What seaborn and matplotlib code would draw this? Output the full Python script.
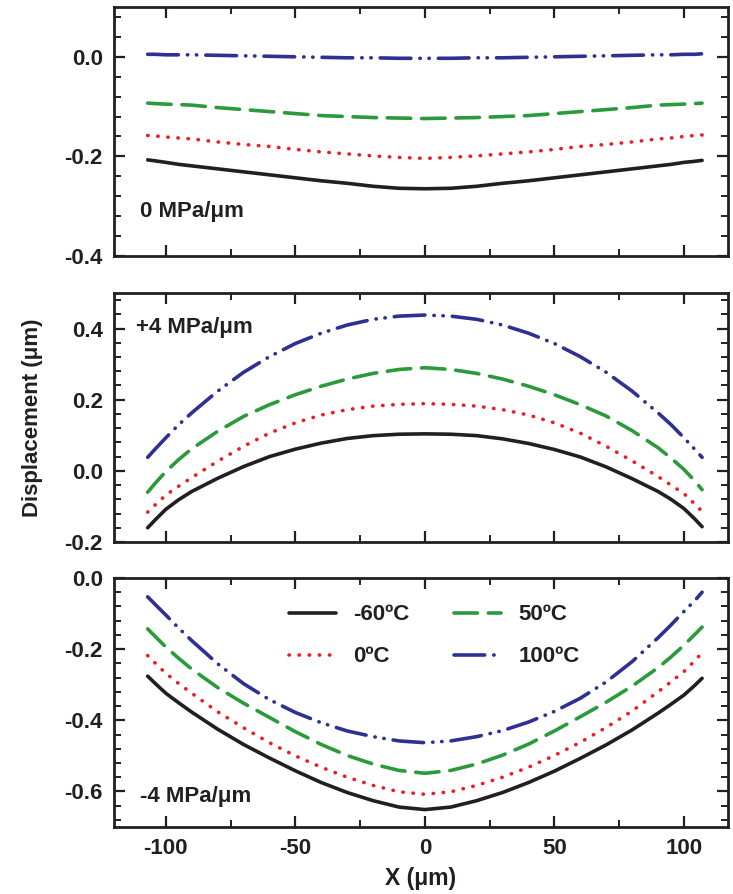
import matplotlib
matplotlib.use("Agg")
import matplotlib.pyplot as plt
import seaborn as sns
import pandas as pd
from matplotlib.ticker import MultipleLocator

# ---------------- data ----------------
x_um = [-107, -104, -100, -95, -90, -80, -70, -60, -50, -40, -30, -20, -10, 0,
        10, 20, 30, 40, 50, 60, 70, 80, 90, 95, 100, 104, 107]
temps = ["-60ºC", "0ºC", "50ºC", "100ºC"]
panel_labels = ["0 MPa/μm", "+4 MPa/μm", "-4 MPa/μm"]

# 0 MPa/um
p0_m60 = [-0.207, -0.209, -0.212, -0.216, -0.219, -0.225, -0.231, -0.237, -0.243, -0.249, -0.254, -0.260, -0.264, -0.265,
          -0.264, -0.260, -0.254, -0.249, -0.243, -0.237, -0.231, -0.225, -0.219, -0.216, -0.212, -0.210, -0.208]
p0_0 = [-0.158, -0.159, -0.161, -0.163, -0.165, -0.171, -0.176, -0.180, -0.186, -0.191, -0.195, -0.199, -0.202, -0.204,
        -0.202, -0.199, -0.195, -0.191, -0.186, -0.180, -0.176, -0.171, -0.165, -0.163, -0.160, -0.158, -0.157]
p0_50 = [-0.093, -0.094, -0.095, -0.096, -0.097, -0.102, -0.106, -0.110, -0.114, -0.118, -0.120, -0.122, -0.123, -0.124,
         -0.123, -0.122, -0.120, -0.118, -0.114, -0.110, -0.106, -0.102, -0.097, -0.096, -0.095, -0.094, -0.093]
p0_100 = [0.005, 0.005, 0.004, 0.004, 0.004, 0.003, 0.002, 0.001, 0.000, -0.001, -0.002, -0.002, -0.003, -0.003,
          -0.003, -0.002, -0.002, -0.001, 0.000, 0.001, 0.002, 0.003, 0.004, 0.004, 0.005, 0.005, 0.006]

# +4 MPa/um
pp_m60 = [-0.160, -0.137, -0.108, -0.081, -0.058, -0.021, 0.012, 0.040, 0.061, 0.078, 0.091, 0.099, 0.103, 0.104,
          0.103, 0.099, 0.090, 0.077, 0.060, 0.039, 0.011, -0.022, -0.058, -0.080, -0.106, -0.134, -0.157]
pp_0 = [-0.116, -0.095, -0.068, -0.043, -0.019, 0.027, 0.069, 0.106, 0.135, 0.157, 0.172, 0.182, 0.187, 0.189,
        0.187, 0.182, 0.172, 0.157, 0.135, 0.106, 0.069, 0.028, -0.016, -0.040, -0.064, -0.092, -0.114]
pp_50 = [-0.060, -0.034, -0.002, 0.032, 0.062, 0.111, 0.153, 0.186, 0.214, 0.238, 0.258, 0.274, 0.285, 0.290,
         0.285, 0.274, 0.258, 0.238, 0.214, 0.186, 0.154, 0.113, 0.065, 0.036, 0.004, -0.027, -0.053]
pp_100 = [0.038, 0.062, 0.093, 0.130, 0.163, 0.224, 0.277, 0.321, 0.358, 0.387, 0.410, 0.426, 0.435, 0.438,
          0.435, 0.426, 0.410, 0.387, 0.358, 0.321, 0.277, 0.224, 0.163, 0.130, 0.093, 0.062, 0.038]

# -4 MPa/um
pm_m60 = [-0.276, -0.297, -0.324, -0.351, -0.377, -0.425, -0.468, -0.506, -0.542, -0.575, -0.603, -0.626, -0.644, -0.651,
          -0.644, -0.626, -0.603, -0.575, -0.543, -0.507, -0.469, -0.427, -0.380, -0.355, -0.329, -0.303, -0.282]
pm_0 = [-0.218, -0.240, -0.268, -0.297, -0.324, -0.376, -0.421, -0.463, -0.500, -0.532, -0.560, -0.583, -0.601, -0.608,
        -0.601, -0.583, -0.560, -0.532, -0.499, -0.462, -0.420, -0.374, -0.320, -0.292, -0.263, -0.234, -0.210]
pm_50 = [-0.143, -0.165, -0.194, -0.226, -0.256, -0.308, -0.352, -0.392, -0.432, -0.468, -0.499, -0.523, -0.541, -0.549,
         -0.541, -0.523, -0.498, -0.467, -0.430, -0.390, -0.349, -0.304, -0.252, -0.222, -0.189, -0.160, -0.138]
pm_100 = [-0.053, -0.075, -0.104, -0.141, -0.176, -0.241, -0.297, -0.342, -0.378, -0.407, -0.430, -0.446, -0.458, -0.463,
          -0.458, -0.446, -0.429, -0.405, -0.375, -0.338, -0.292, -0.235, -0.168, -0.132, -0.094, -0.065, -0.040]

panels = [
    [p0_m60, p0_0, p0_50, p0_100],
    [pp_m60, pp_0, pp_50, pp_100],
    [pm_m60, pm_0, pm_50, pm_100],
]

# ---------------- style ----------------
sns.set_theme(style="ticks")
ink = "#231f20"
plt.rcParams.update({
    "font.family": ["Liberation Sans", "DejaVu Sans"],
    "font.weight": "bold",
    "axes.unicode_minus": False,
    "axes.linewidth": 2.0,
    "axes.edgecolor": ink,
    "axes.labelcolor": ink,
    "text.color": ink,
    "xtick.color": ink,
    "ytick.color": ink,
    "xtick.direction": "in",
    "ytick.direction": "in",
    "xtick.top": True,
    "ytick.right": True,
    "xtick.major.size": 8,
    "ytick.major.size": 8,
    "xtick.minor.size": 5,
    "ytick.minor.size": 5,
    "xtick.major.width": 1.6,
    "ytick.major.width": 1.6,
    "xtick.minor.width": 1.4,
    "ytick.minor.width": 1.4,
    "xtick.major.pad": 8,
    "ytick.major.pad": 8,
    "xtick.labelsize": 16,
    "ytick.labelsize": 16,
})

colors = [ink, "#ed1c24", "#2a9a3c", "#2e3192"]
styles = ["-", (0, (0.1, 2.7)), (0, (6.5, 3.0)), (0, (8.5, 2.5, 0.1, 2.4, 0.1, 2.5))]
lw = 2.6

fig = plt.figure(figsize=(7.33, 8.94), dpi=100)
L, W = 114 / 733, (728 - 114) / 733
H = 249 / 894
tops = [7, 293, 578]
axes = [fig.add_axes([L, 1 - (t + 249) / 894, W, H]) for t in tops]

ylims = [(-0.4, 0.1), (-0.2, 0.5), (-0.7, 0.0)]
label_pos = [(-110, -0.31), (-111.5, 0.403), (-110, -0.614)]

for i, ax in enumerate(axes):
    for j, t in enumerate(temps):
        df = pd.DataFrame({"x": x_um, "y": panels[i][j]})
        sns.lineplot(data=df, x="x", y="y", ax=ax, color=colors[j],
                     linestyle=styles[j], linewidth=lw, label=t,
                     dash_capstyle="round", solid_capstyle="round",
                     solid_joinstyle="round", dash_joinstyle="round",
                     legend=False, sort=False, estimator=None)
    ax.set_xlim(-120, 117)
    ax.set_ylim(*ylims[i])
    ax.xaxis.set_major_locator(MultipleLocator(50))
    ax.xaxis.set_minor_locator(MultipleLocator(25))
    ax.yaxis.set_major_locator(MultipleLocator(0.2))
    ax.yaxis.set_minor_locator(MultipleLocator(0.04))
    ax.yaxis.set_major_formatter(plt.FormatStrFormatter("%.1f"))
    ax.tick_params(which="both", top=True, right=True, labelright=False, labeltop=False)
    ax.set_xlabel("")
    ax.set_ylabel("")
    ax.text(label_pos[i][0], label_pos[i][1], panel_labels[i], ha="left", va="center",
            fontsize=16, fontweight="bold")
    if i < 2:
        ax.tick_params(axis="x", labelbottom=False)

axes[1].set_ylabel("Displacement (μm)", fontsize=16, fontweight="bold")
axes[1].yaxis.set_label_coords(-0.132, 0.5)
axes[1].yaxis.label.set_verticalalignment("center")

axes[2].set_xlabel("X (μm)", fontsize=16.5, fontweight="bold")
axes[2].xaxis.set_label_coords(0.5, -0.205)
axes[2].xaxis.label.set_verticalalignment("center")

axes[2].legend(ncol=2, loc="upper center", bbox_to_anchor=(0.522, 0.93), frameon=False,
               fontsize=16, handlelength=2.1, handletextpad=0.8, columnspacing=2.0,
               labelspacing=0.95, borderaxespad=0)

fig.savefig("out.png", dpi=100)
